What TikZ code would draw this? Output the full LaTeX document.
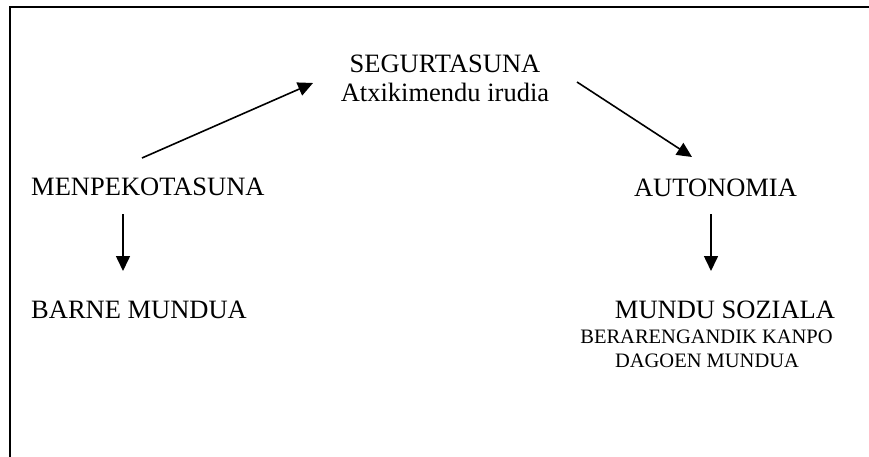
\documentclass[tikz,border=0pt]{standalone}
\usepackage{fontspec}
\setmainfont{Liberation Serif}
\usetikzlibrary{arrows.meta}
\begin{document}
\begin{tikzpicture}[x=1pt,y=-1pt,
 lbl/.style={inner sep=0pt,anchor=base,font=\fontsize{26.5}{30}\selectfont},
 sml/.style={inner sep=0pt,anchor=base,font=\fontsize{20.5}{24}\selectfont},
 arr/.style={line width=1.6pt,-{Triangle[length=15pt,width=14pt]}}]
\useasboundingbox (0,0) rectangle (869,457);
\clip (0,0) rectangle (869,457);
\draw[line width=2pt] (10,7) rectangle (900,480);
\node[lbl] (seg) at (445,73) {SEGURTASUNA};
\node[lbl] (atx) at (445,102) {Atxikimendu irudia};
\node[lbl,anchor=base west] (menp) at (31,195) {MENPEKOTASUNA};
\node[lbl,anchor=base west] (barne) at (31,318) {BARNE MUNDUA};
\node[lbl] (auto) at (715.5,196) {AUTONOMIA};
\node[lbl] (mundu) at (725,318) {MUNDU SOZIALA};
\node[sml] (bera) at (706.5,343) {BERARENGANDIK KANPO};
\node[sml] (dago) at (707,367) {DAGOEN MUNDUA};
\coordinate (a1s) at (142,158);
\coordinate (a1e) at (313,83);
\coordinate (a2s) at (577,82);
\coordinate (a2e) at (692,157);
\coordinate (a3s) at (123,214);
\coordinate (a3e) at (123,271);
\coordinate (a4s) at (711,214);
\coordinate (a4e) at (711,271);
\draw[arr] (a1s) -- (a1e);
\draw[arr] (a2s) -- (a2e);
\draw[arr] (a3s) -- (a3e);
\draw[arr] (a4s) -- (a4e);
\end{tikzpicture}
\end{document}
